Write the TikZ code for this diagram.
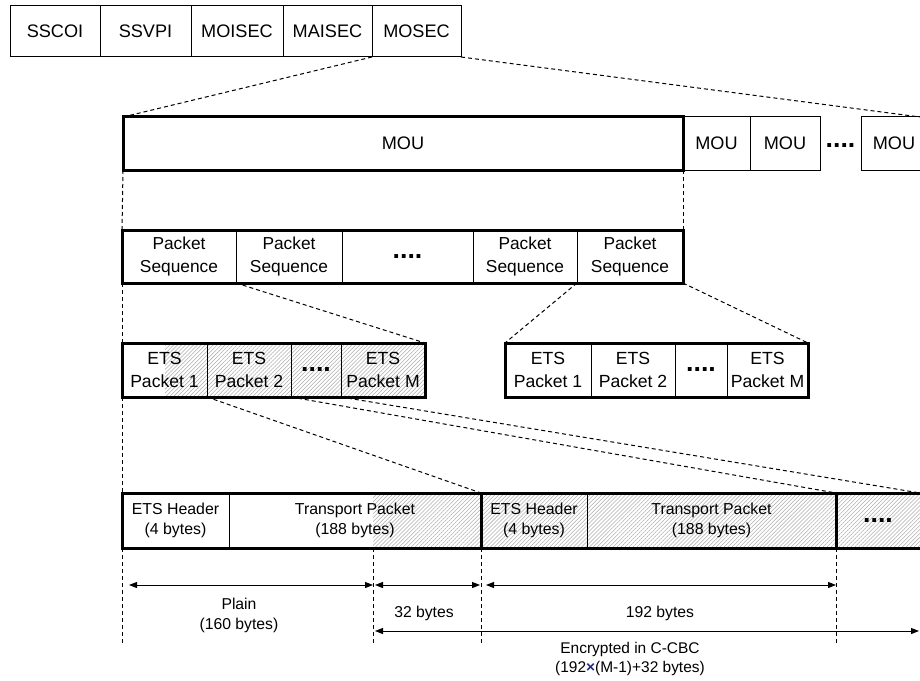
\documentclass[tikz,border=0pt]{standalone}
\usepackage{fontspec}
\setmainfont{Liberation Sans}
\usetikzlibrary{arrows.meta,patterns.meta,calc}

% a rectangular cell given by its corners (x1,y1) and (x2,y2)
\newcommand\mkcell[7][]{%
  \node[cell,#1,minimum width={(#4-#2)*0.75pt},minimum height={(#5-#3)*0.75pt}]
    (#6) at ({(#2+#4)/2},{(#3+#5)/2}) {#7};}
\newcommand\bigdots{{\fontsize{20}{20}\selectfont\bfseries ....}}

\begin{document}
\begin{tikzpicture}[x=0.75pt,y=-0.75pt,
  font=\fontsize{11.8}{15}\selectfont,
  cell/.style={draw,line width=0.75pt,inner sep=0pt,outer sep=0pt,align=center},
  toprow/.style={font=\fontsize{13.6}{17}\selectfont},
  seqrow/.style={font=\fontsize{13}{17.2}\selectfont},
  etsrow/.style={font=\fontsize{13.2}{17.2}\selectfont},
  pktrow/.style={font=\fontsize{11.9}{15}\selectfont},
  frame/.style={draw,line width=2.25pt},
  link/.style={line width=0.75pt,dash pattern=on 3pt off 2.25pt},
  hatch/.style={pattern={Lines[angle=45,distance=2.1pt,line width=0.4pt]},pattern color=black!32},
  dim/.style={line width=0.75pt,{Triangle[length=6pt,width=4.5pt]}-{Triangle[length=6pt,width=4.5pt]}},
  dotsty/.style={inner sep=0pt}]

\useasboundingbox (0,0) rectangle (920,681);
\clip (0,0) rectangle (920,681);

% ---- hatched (encrypted) areas ----
\fill[hatch] (165,343) rectangle (425,397);
\fill[hatch] (373,493) rectangle (930,548);

% ---- header fields ----
\mkcell[toprow]{10}{6}{100}{57}{sscoi}{SSCOI}
\mkcell[toprow]{100}{6}{191}{57}{ssvpi}{SSVPI}
\mkcell[toprow]{191}{6}{283}{57}{moisec}{MOISEC}
\mkcell[toprow]{283}{6}{372}{57}{maisec}{MAISEC}
\mkcell[toprow]{372}{6}{461}{57}{mosec}{MOSEC}

% ---- MOU row ----
\mkcell[toprow]{123}{117}{683}{170}{mou}{MOU}
\mkcell[toprow]{683}{117}{750}{170}{mouA}{MOU}
\mkcell[toprow]{750}{117}{820}{170}{mouB}{MOU}
\node[dotsty] (mouDots) at (840.5,146) {\bigdots};
\mkcell[toprow]{861}{117}{927}{170}{mouZ}{MOU}
\draw[frame] (mou.north west) rectangle (mou.south east);
\coordinate (mouEnd) at (920,117);

% ---- packet sequences ----
\mkcell[seqrow]{122}{230}{236}{283}{ps1}{Packet\\Sequence}
\mkcell[seqrow]{236}{230}{342}{283}{ps2}{Packet\\Sequence}
\mkcell[seqrow]{342}{230}{473}{283}{ps3}{\bigdots}
\mkcell[seqrow]{473}{230}{577}{283}{ps4}{Packet\\Sequence}
\mkcell[seqrow]{577}{230}{683}{283}{ps5}{Packet\\Sequence}
\draw[frame] (ps1.north west) rectangle (ps5.south east);

% ---- ETS packets of the first sequence ----
\mkcell[etsrow]{122}{343}{207}{397}{ea1}{ETS\\Packet 1}
\mkcell[etsrow]{207}{343}{291}{397}{ea2}{ETS\\Packet 2}
\mkcell[etsrow]{291}{343}{341}{397}{ea3}{\bigdots}
\mkcell[etsrow]{341}{343}{425}{397}{ea4}{ETS\\Packet M}
\draw[frame] (ea1.north west) rectangle (ea4.south east);

% ---- ETS packets of the last sequence ----
\mkcell[etsrow]{505}{343}{591}{397}{eb1}{ETS\\Packet 1}
\mkcell[etsrow]{591}{343}{675}{397}{eb2}{ETS\\Packet 2}
\mkcell[etsrow]{675}{343}{727}{397}{eb3}{\bigdots}
\mkcell[etsrow]{727}{343}{808}{397}{eb4}{ETS\\Packet M}
\draw[frame] (eb1.north west) rectangle (eb4.south east);

% ---- ETS packet layout ----
\mkcell[pktrow]{122}{493}{229}{548}{h1}{ETS Header\\(4 bytes)}
\mkcell[pktrow]{229}{493}{481}{548}{t1}{Transport Packet\\(188 bytes)}
\mkcell[pktrow]{481}{493}{587}{548}{h2}{ETS Header\\(4 bytes)}
\mkcell[pktrow]{587}{493}{836}{548}{t2}{Transport Packet\\(188 bytes)}
\mkcell[pktrow]{836}{493}{927}{548}{dz}{}
\node[dotsty] (dzDots) at (878,521) {\bigdots};
\draw[frame] (h1.north west) rectangle (t1.south east);
\draw[frame] (h2.north west) rectangle (t2.south east);
\draw[frame] (dz.north west) rectangle (dz.south east);
\coordinate (rowEnd) at (920,493);

% ---- expansion lines ----
\draw[link] (mosec.south west) -- (mou.north west);
\draw[link] (mosec.south east) -- (mouEnd);
\draw[link] (mou.south west) -- (ps1.north west);
\draw[link] (mou.south east) -- (ps5.north east);
\draw[link] (ps1.south west) -- (ea1.north west);
\draw[link] (ps1.south east) -- (ea4.north east);
\draw[link] (ps5.south west) -- (eb1.north west);
\draw[link] (ps5.south east) -- (eb4.north east);
\draw[link] (ea1.south west) -- (h1.north west);
\draw[link] (ea1.south east) -- (h2.north west);
\draw[link] (ea2.south east) -- (t2.north east);
\draw[link] (ea3.south east) -- (rowEnd);

% ---- byte ranges ----
\coordinate (gA) at (122,645);
\coordinate (gB) at (373,645);
\coordinate (gC) at (481,645);
\coordinate (gD) at (836,645);
\draw[link] (h1.south west) -- (gA);
\draw[link] (373,548) -- (gB);
\draw[link] (t1.south east) -- (gC);
\draw[link] (t2.south east) -- (gD);

\coordinate (a1) at (129,585);
\coordinate (a2) at (373,585);
\coordinate (a3) at (375,585);
\coordinate (a4) at (480,585);
\coordinate (a5) at (486,585);
\coordinate (a6) at (836,585);
\coordinate (b1) at (375,631);
\coordinate (b2) at (919,631);
\draw[dim] (a1) -- (a2);
\draw[dim] (a3) -- (a4);
\draw[dim] (a5) -- (a6);
\draw[dim] (b1) -- (b2);

\node[align=center] (plain) at (239,615) {Plain\\(160 bytes)};
\node (thirty) at (424,613) {32 bytes};
\node (oneninetwo) at (660,613) {192 bytes};
\node[align=center,font=\fontsize{11.6}{14.4}\selectfont] (enc) at (630,659)
  {Encrypted in C-CBC\\(192{\color[HTML]{1F2A8A}\bfseries ×}(M-1)+32 bytes)};
\end{tikzpicture}
\end{document}
